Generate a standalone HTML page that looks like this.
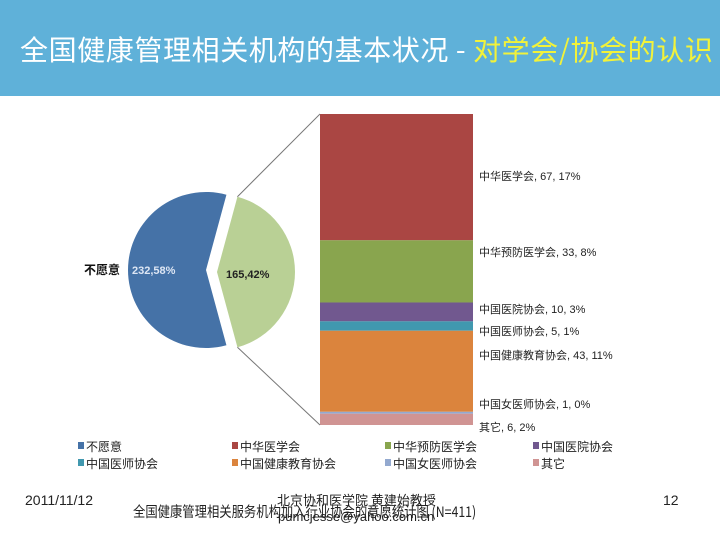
<!DOCTYPE html>
<html><head><meta charset="utf-8"><style>
body{margin:0;width:720px;height:540px;overflow:hidden;background:#fff;font-family:"Liberation Sans","Noto Sans CJK SC",sans-serif;position:relative}
.abs{position:absolute;white-space:nowrap}
</style></head><body>
<div style="position:absolute;left:0;top:0;width:720px;height:96px;background:#5fb1d9"></div>
<div class="abs" style="left:20px;top:29px;font-size:28px;color:#fff;font-family:'Noto Sans CJK SC',sans-serif;letter-spacing:0.6px">全国健康管理相关机构的基本状况 - <span style="color:#f2f23a">对学会/协会的认识</span></div>
<svg id="chart" width="720" height="540" style="position:absolute;left:0;top:0" font-family="Liberation Sans, Noto Sans CJK SC, sans-serif"></svg>
<div class="abs" style="left:25px;top:492px;font-size:14px;color:#222">2011/11/12</div>
<div class="abs" style="left:663px;top:492px;font-size:14px;color:#222">12</div>
<div class="abs" style="left:277px;top:490px;font-size:13px;color:#222;font-family:'Noto Sans CJK SC',sans-serif">北京协和医学院 黄建始教授</div>
<div class="abs" style="left:278px;top:509px;font-size:13px;color:#222">pumcjesse@yahoo.com.cn</div>
<div class="abs" style="left:133px;top:501px;font-size:14.5px;color:#222;font-family:'Noto Sans CJK SC',sans-serif;transform:scaleX(0.85);transform-origin:0 0">全国健康管理相关服务机构加入行业协会的意愿统计图 (N=411)</div>
<script>
const pieLabels=["不愿意","愿意"];
const pieValues=[232,165];
const piePct=["58%","42%"];
const barLabels=["中华医学会","中华预防医学会","中国医院协会","中国医师协会","中国健康教育协会","中国女医师协会","其它"];
const barValues=[67,33,10,5,43,1,6];
const barPct=["17%","8%","3%","1%","11%","0%","2%"];
const legendLabels=["不愿意","中华医学会","中华预防医学会","中国医院协会","中国医师协会","中国健康教育协会","中国女医师协会","其它"];
const legendColors=["#4572a7","#aa4643","#89a54e","#71588f","#4198af","#db843d","#93a9cf","#d09493"];
const barColors=["#aa4643","#89a54e","#71588f","#4198af","#db843d","#93a9cf","#d09493"];
const svg=document.getElementById('chart');
const NS='http://www.w3.org/2000/svg';
function mk(t,a){const e=document.createElementNS(NS,t);for(const k in a)e.setAttribute(k,a[k]);svg.appendChild(e);return e;}
const total=pieValues[0]+pieValues[1];
const R=78;
const gHalf=Math.PI*pieValues[1]/total;
const gc={x:217,y:272};
const bc={x:206,y:270};
function pt(c,a){return [c.x+R*Math.cos(a),c.y-R*Math.sin(a)];}
let p1=pt(bc,gHalf),p2=pt(bc,-gHalf);
let e=mk('path',{d:`M${bc.x},${bc.y}L${p1[0]},${p1[1]}A${R},${R} 0 1 0 ${p2[0]},${p2[1]}Z`,fill:'#4572a7'});

let g1=pt(gc,gHalf),g2=pt(gc,-gHalf);
e=mk('path',{d:`M${gc.x},${gc.y}L${g1[0]},${g1[1]}A${R},${R} 0 0 1 ${g2[0]},${g2[1]}Z`,fill:'#b9d095'});

const bx=320,bw=153,by0=114,by1=425;
const bsum=barValues.reduce((a,b)=>a+b,0);
const sc=(by1-by0)/bsum;
let y=by0;
const labelY=[180,256,313,335,359,408,431];
barValues.forEach((v,i)=>{
 const h=v*sc;
 e=mk('rect',{x:bx,y:y,width:bw,height:h,fill:barColors[i]});
 
 y+=h;
 const t=mk('text',{x:479,y:labelY[i],'font-size':11,fill:'#222'});
 t.textContent=barLabels[i]+', '+v+', '+barPct[i];
 
});
e=mk('line',{x1:g1[0],y1:g1[1],x2:bx,y2:by0,stroke:'#777','stroke-width':1});

e=mk('line',{x1:g2[0],y1:g2[1],x2:bx,y2:by1,stroke:'#777','stroke-width':1});

let t=mk('text',{x:84,y:274,'font-size':12,'font-weight':'bold',fill:'#111'});t.textContent=pieLabels[0];

t=mk('text',{x:132,y:274,'font-size':11,'font-weight':'bold',fill:'#dde6f4'});t.textContent=pieValues[0]+','+piePct[0];

t=mk('text',{x:226,y:278,'font-size':11,'font-weight':'bold',fill:'#222'});t.textContent=pieValues[1]+','+piePct[1];

const lx=[78,232,385,533],ly=[451,468];
legendLabels.forEach((l,i)=>{
 const x=lx[i%4],yy=ly[Math.floor(i/4)];
 let r=mk('rect',{x:x,y:yy-9,width:6,height:7,fill:legendColors[i]});
 
 let tt=mk('text',{x:x+8,y:yy,'font-size':12,fill:'#222'});tt.textContent=l;
 
});
</script>
</body></html>
